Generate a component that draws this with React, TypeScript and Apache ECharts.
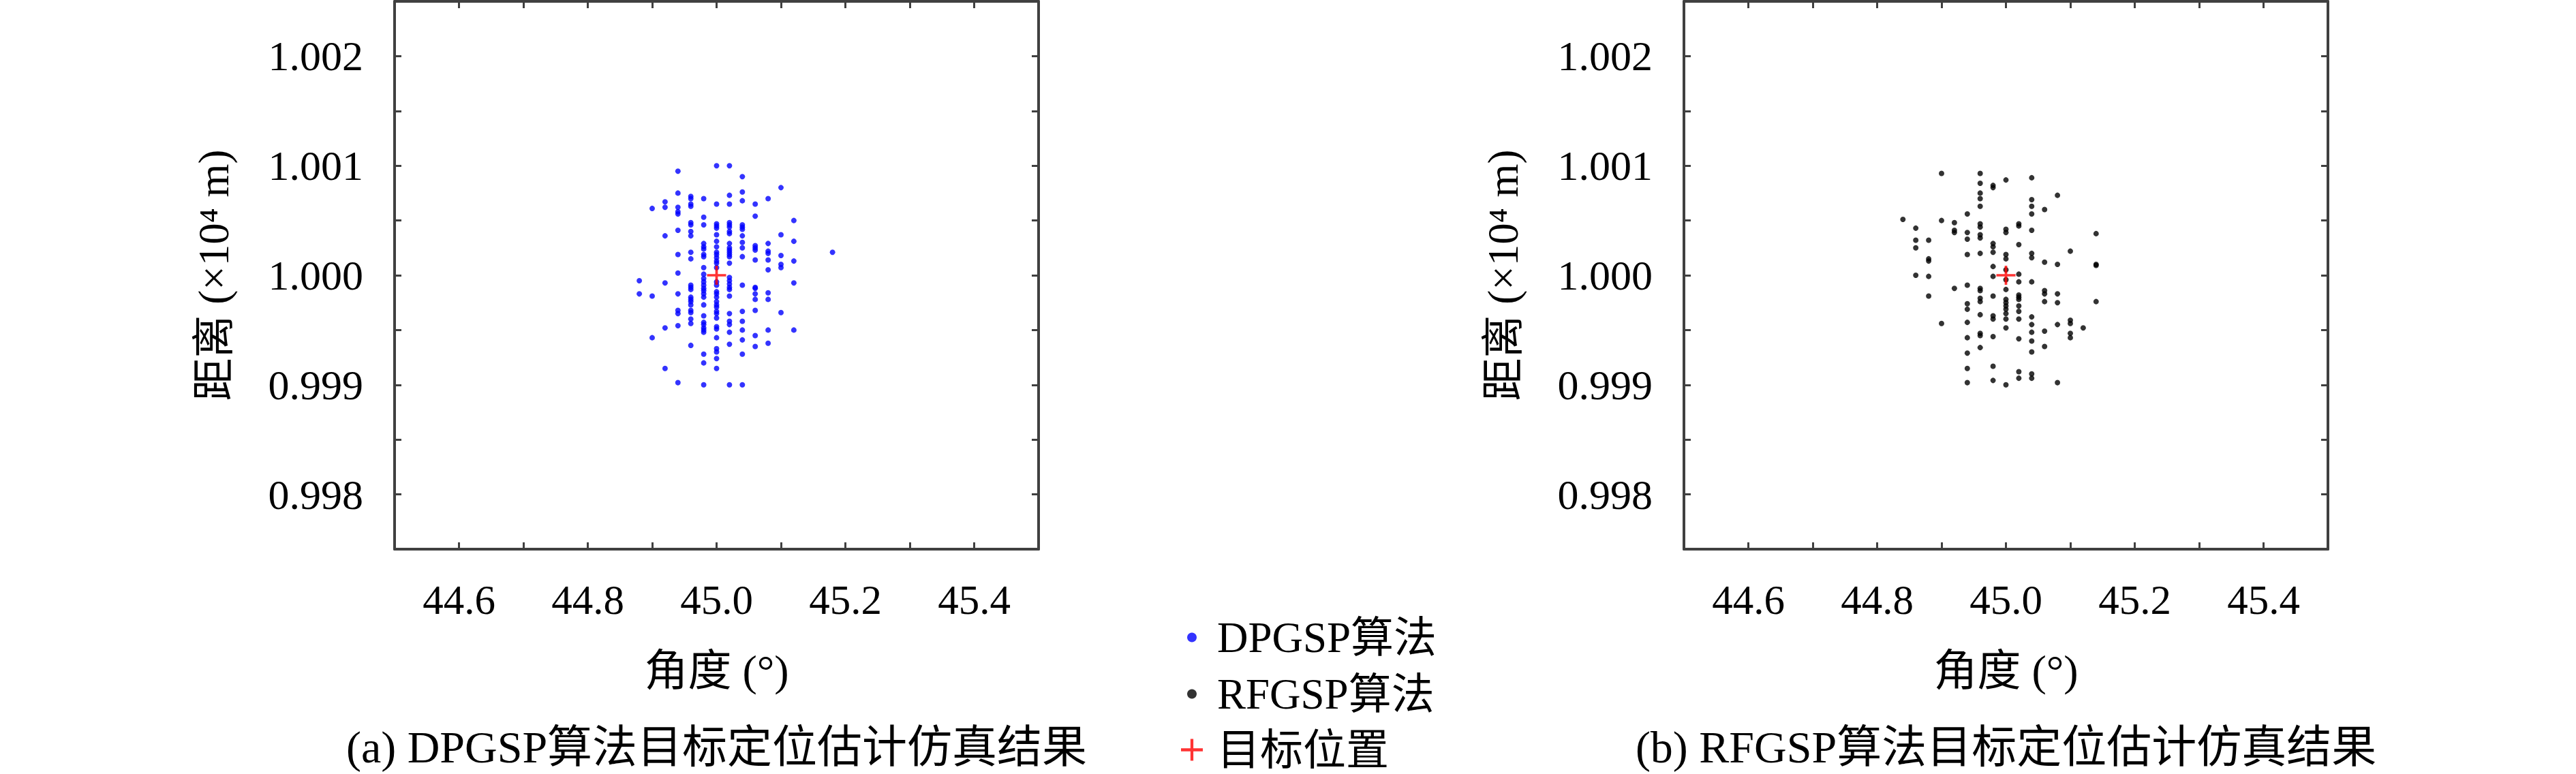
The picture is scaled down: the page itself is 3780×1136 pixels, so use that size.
import React, { useEffect, useRef } from "react";
import * as echarts from "echarts";

// ---- data (angle in degrees, range in 10^4 m) ----
const DPGSP_ANGLES = [44.88, 44.9, 44.92, 44.94, 44.96, 44.98, 45.0, 45.02, 45.04, 45.06, 45.08, 45.1, 45.12, 45.18];
const DPGSP_RANGES = [
  [0.99995, 0.99983],
  [1.00061, 0.99981, 0.99943],
  [1.00067, 1.00062, 1.00036, 0.99993, 0.99952, 0.99915],
  [1.00095, 1.00075, 1.00062, 1.00058, 1.00056, 1.00041, 1.00019, 1.00002, 0.99983, 0.99968, 0.99965, 0.99954, 0.99902],
  [1.00072, 1.0007, 1.00065, 1.00063, 1.00048, 1.00046, 1.0004, 1.00036, 1.00021, 1.00015, 0.99991, 0.99989, 0.99987, 0.9998, 0.99978, 0.99976, 0.99973, 0.99968, 0.99966, 0.9996, 0.99956, 0.99936],
  [1.0007, 1.00053, 1.00046, 1.00029, 1.00026, 1.00024, 1.00019, 1.00017, 1.00007, 1.00001, 0.99997, 0.99994, 0.99991, 0.99988, 0.99986, 0.99983, 0.9998, 0.99973, 0.99963, 0.99957, 0.99955, 0.99952, 0.9995, 0.99948, 0.99928, 0.9992, 0.999],
  [1.001, 1.00065, 1.00047, 1.00045, 1.00043, 1.00037, 1.00031, 1.00026, 1.00021, 1.00019, 1.00016, 1.00013, 1.00011, 1.00007, 0.99994, 0.99991, 0.99985, 0.99983, 0.9998, 0.99976, 0.99973, 0.99971, 0.99967, 0.99965, 0.99961, 0.99953, 0.99951, 0.99943, 0.99933, 0.9993, 0.99924, 0.99915],
  [1.001, 1.00073, 1.00065, 1.00048, 1.00046, 1.00044, 1.0004, 1.00038, 1.00029, 1.00025, 1.00023, 1.00021, 1.00019, 1.00017, 1.00011, 0.99998, 0.99995, 0.99992, 0.99989, 0.99987, 0.99981, 0.99965, 0.99958, 0.99955, 0.99948, 0.99937, 0.999],
  [1.0009, 1.00076, 1.00068, 1.00046, 1.00044, 1.00042, 1.00036, 1.0003, 1.00025, 1.00017, 0.99991, 0.99967, 0.99958, 0.9995, 0.99941, 0.99928, 0.999],
  [1.00065, 1.00054, 1.00027, 1.00025, 1.00023, 1.00014, 0.99989, 0.99988, 0.99983, 0.99978, 0.99968, 0.99945, 0.99935],
  [1.0007, 1.00029, 1.00022, 1.0002, 1.00014, 1.00005, 0.99984, 0.99978, 0.9995, 0.99938],
  [1.0008, 1.00037, 1.00018, 1.0001, 1.00007, 0.99966],
  [1.0005, 1.00031, 1.00013, 0.99993, 0.9995],
  [1.00021],
];

const RFGSP_ANGLES = [44.84, 44.86, 44.88, 44.9, 44.92, 44.94, 44.96, 44.98, 45.0, 45.02, 45.04, 45.06, 45.08, 45.1, 45.12, 45.14];
const RFGSP_RANGES = [
  [1.00051],
  [1.00043, 1.00032, 1.00025, 1.0],
  [1.00032, 1.00015, 1.00013, 0.99999, 0.99981],
  [1.00093, 1.0005, 0.99956],
  [1.00048, 1.00041, 1.00039, 0.99988],
  [1.00056, 1.00039, 1.00033, 1.00019, 0.99991, 0.99974, 0.99969, 0.99957, 0.99943, 0.99929, 0.99915, 0.99902],
  [1.00093, 1.00084, 1.00075, 1.0007, 1.00063, 1.00047, 1.00044, 1.00037, 1.00034, 1.0002, 0.99988, 0.99986, 0.99979, 0.99976, 0.99964, 0.99947, 0.99945, 0.99934],
  [1.00082, 1.0008, 1.00029, 1.00026, 1.00021, 1.00008, 0.99999, 0.99981, 0.99963, 0.9996, 0.99944, 0.99917, 0.99904],
  [1.00087, 1.00042, 1.00039, 1.00019, 1.00015, 1.00005, 0.99996, 0.99987, 0.99978, 0.99975, 0.99972, 0.99969, 0.99965, 0.9996, 0.99952, 0.999],
  [1.00047, 1.00045, 1.00028, 1.00001, 0.99994, 0.99982, 0.9998, 0.99978, 0.99972, 0.99967, 0.9996, 0.99942, 0.99912, 0.99906],
  [1.00089, 1.00069, 1.00063, 1.00056, 1.00041, 1.0002, 1.00016, 0.99994, 0.99962, 0.99955, 0.99948, 0.9994, 0.9993, 0.9991, 0.99906],
  [1.0006, 1.00012, 0.99986, 0.99983, 0.99976, 0.99949, 0.99935],
  [1.00073, 1.0001, 0.99983, 0.99975, 0.99955, 0.99902],
  [1.00022, 0.99959, 0.99956, 0.99947, 0.99943],
  [0.99952],
  [1.00038, 1.0001, 1.00009, 0.99976],
];

const TARGET_ANGLE = [45.0];
const TARGET_RANGE = [1.0];

const X_MIN = 44.5;
const X_MAX = 45.5;
const X_STEP = 0.1;
const Y_MIN = 0.9975;
const Y_MAX = 1.0025;
const Y_STEP = 0.0005;

const SERIES_NAMES = ["DPGSP算法", "RFGSP算法", "目标位置"];
const X_NAME = "角度 (°)";
const Y_NAME = "距离 (×10⁴ m)";
const CAPTIONS = ["(a) DPGSP算法目标定位估计仿真结果", "(b) RFGSP算法目标定位估计仿真结果"];

// ---- styling ----
const FONT = '"Liberation Serif", "Noto Sans CJK SC", serif';
const FRAME = "#404040";
const CROSS = "path://M13,0H17V13H30V17H17V30H13V17H0V13H13Z";

const toPoints = (angles: number[], ranges: number[][]) =>
  angles.flatMap((a, i) => ranges[i].map((r) => [a, r]));

const GRIDS = [
  { left: 579, top: 2, width: 945, height: 804 },
  { left: 2471, top: 2, width: 945, height: 804 },
];

function xAxes(gridIndex: number) {
  const common = {
    gridIndex,
    type: "value",
    min: X_MIN,
    max: X_MAX,
    interval: X_STEP,
    splitLine: { show: false },
    axisLine: { show: true, onZero: false, lineStyle: { color: FRAME, width: 4 } },
    axisTick: { show: true, inside: true, length: 10, lineStyle: { color: FRAME, width: 3 } },
  };
  return [
    {
      ...common,
      position: "bottom",
      axisLabel: {
        show: true,
        margin: 44,
        fontSize: 61,
        fontFamily: FONT,
        color: "#000",
        formatter: (v: number) => (Math.abs(v * 5 - Math.round(v * 5)) < 1e-6 ? v.toFixed(1) : ""),
      },
      name: X_NAME,
      nameLocation: "middle",
      nameGap: 146,
      nameTextStyle: { fontSize: 64, fontFamily: FONT, color: "#000" },
    },
    { ...common, position: "top", axisLabel: { show: false } },
  ];
}

function yAxes(gridIndex: number) {
  const common = {
    gridIndex,
    type: "value",
    min: Y_MIN,
    max: Y_MAX,
    interval: Y_STEP,
    splitLine: { show: false },
    axisLine: { show: true, onZero: false, lineStyle: { color: FRAME, width: 4 } },
    axisTick: { show: true, inside: true, length: 10, lineStyle: { color: FRAME, width: 3 } },
  };
  return [
    {
      ...common,
      position: "left",
      axisLabel: {
        show: true,
        margin: 46,
        fontSize: 62,
        fontFamily: FONT,
        color: "#000",
        formatter: (v: number) =>
          Math.abs(v * 1000 - Math.round(v * 1000)) < 1e-6 ? v.toFixed(3) : "",
      },
      name: Y_NAME,
      nameLocation: "middle",
      nameGap: 234,
      nameRotate: 90,
      nameTextStyle: { fontSize: 63, fontFamily: FONT, color: "#000" },
    },
    { ...common, position: "right", axisLabel: { show: false } },
  ];
}

export default function App() {
  const ref = useRef<HTMLDivElement>(null);

  useEffect(() => {
    document.body.style.margin = "0";
    const chart = echarts.init(ref.current!, null, { renderer: "svg" });
    const legendText = { fontSize: 63, fontFamily: FONT, color: "#000" };
    chart.setOption({
      animation: false,
      backgroundColor: "#fff",
      grid: GRIDS.map((g) => ({ ...g, containLabel: false })),
      xAxis: [...xAxes(0), ...xAxes(1)],
      yAxis: [...yAxes(0), ...yAxes(1)],
      legend: [
        {
          data: [{ name: SERIES_NAMES[0], icon: "circle" }],
          left: 1737,
          top: 899,
          itemWidth: 14,
          itemHeight: 14,
          selectedMode: false,
          textStyle: { ...legendText, padding: [0, 0, 0, 25] },
        },
        {
          data: [{ name: SERIES_NAMES[1], icon: "circle" }],
          left: 1737,
          top: 982,
          itemWidth: 14,
          itemHeight: 14,
          selectedMode: false,
          textStyle: { ...legendText, padding: [0, 0, 0, 25] },
        },
        {
          data: [{ name: SERIES_NAMES[2], icon: CROSS }],
          left: 1728,
          top: 1064,
          itemWidth: 32,
          itemHeight: 32,
          selectedMode: false,
          textStyle: { ...legendText, padding: [0, 0, 0, 16] },
        },
      ],
      series: [
        {
          name: SERIES_NAMES[0],
          type: "scatter",
          xAxisIndex: 0,
          yAxisIndex: 0,
          symbol: "circle",
          symbolSize: 8,
          itemStyle: { color: "#0000ff" },
          data: toPoints(DPGSP_ANGLES, DPGSP_RANGES),
          z: 2,
        },
        {
          name: SERIES_NAMES[1],
          type: "scatter",
          xAxisIndex: 2,
          yAxisIndex: 2,
          symbol: "circle",
          symbolSize: 8,
          itemStyle: { color: "#000000" },
          data: toPoints(RFGSP_ANGLES, RFGSP_RANGES),
          z: 2,
        },
        {
          name: SERIES_NAMES[2],
          type: "scatter",
          xAxisIndex: 0,
          yAxisIndex: 0,
          symbol: CROSS,
          symbolSize: 28,
          itemStyle: { color: "#ff0000" },
          data: TARGET_ANGLE.map((a, i) => [a, TARGET_RANGE[i]]),
          z: 5,
        },
        {
          name: SERIES_NAMES[2],
          type: "scatter",
          xAxisIndex: 2,
          yAxisIndex: 2,
          symbol: CROSS,
          symbolSize: 28,
          itemStyle: { color: "#ff0000" },
          data: TARGET_ANGLE.map((a, i) => [a, TARGET_RANGE[i]]),
          z: 5,
        },
      ],
      graphic: CAPTIONS.map((text, i) => ({
        type: "text",
        x: GRIDS[i].left + GRIDS[i].width / 2,
        y: 1096,
        style: {
          text,
          fontSize: 66,
          fontFamily: FONT,
          fill: "#000",
          textAlign: "center",
          textVerticalAlign: "middle",
        },
      })),
    });
    return () => chart.dispose();
  }, []);

  return (
    <div
      ref={ref}
      style={{ position: "absolute", left: 0, top: 0, width: 3780, height: 1136 }}
    />
  );
}
